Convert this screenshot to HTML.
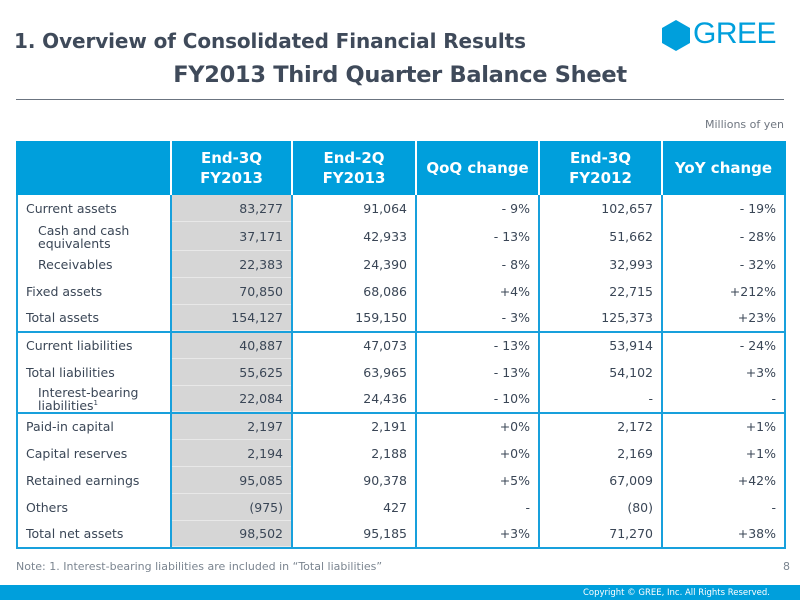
<!DOCTYPE html>
<html><head><meta charset="utf-8"><style>
body{margin:0;width:800px;height:600px;position:relative;background:#fff;font-family:"DejaVu Sans","Liberation Sans",sans-serif;overflow:hidden;color:#3a4656}
.t1{position:absolute;left:14px;top:29px;font-size:20px;font-weight:bold;color:#3f4a5a;letter-spacing:-0.1px}
.t2{position:absolute;left:0;width:800px;top:62px;text-align:center;font-size:22.5px;font-weight:bold;color:#3f4a5a;letter-spacing:-0.3px}
.rule{position:absolute;left:16px;width:768px;top:99px;height:1px;background:#6b7480}
.unit{position:absolute;right:16px;top:118px;font-size:11px;color:#6f7680}
table{position:absolute;left:16px;top:141px;width:768px;border-collapse:collapse;font-size:12.5px;table-layout:fixed}
td,th{border-left:2px solid #18a0dc;border-right:2px solid #18a0dc;padding:0 8px;text-align:right;color:#3a4656;box-sizing:border-box}
th{background:#009fdc;color:#fff;font-size:15px;font-weight:bold;text-align:center;height:54px;line-height:20px;border-color:#fff}
th:first-child{border-left-color:#009fdc}th:last-child{border-right-color:#009fdc}
td:first-child{text-align:left;padding-left:8px}
td.g{background:#d6d6d6;box-shadow:inset 0 -1px 0 #e8e8e8}
td{height:27px;line-height:14px}
tr.b td{border-bottom:2px solid #18a0dc}
tr.last td{border-bottom:2px solid #18a0dc}
td.i{padding-left:20px;line-height:13px}
.note{position:absolute;left:16px;top:560px;font-size:11px;color:#7b8590}
.pg{position:absolute;right:10px;top:560px;font-size:11px;color:#7b8590}
.foot{position:absolute;left:0;top:585px;width:800px;height:15px;background:#009fdc;color:#fff;font-size:8.5px;text-align:right;line-height:16px}
.foot span{margin-right:30px}
.logo{position:absolute;left:662px;top:20px}
.gree{position:absolute;left:693px;top:17px;font-family:"Liberation Sans",sans-serif;font-size:30px;color:#009fdc;letter-spacing:-0.5px}
</style></head><body>
<div class="t1">1. Overview of Consolidated Financial Results</div>
<div class="t2">FY2013 Third Quarter Balance Sheet</div>
<svg class="logo" width="29" height="31"><polygon points="14,0 28,8 28,23 14,31 0,23 0,8" fill="#009fdc"/></svg>
<div class="gree">GREE</div>
<div class="rule"></div>
<div class="unit">Millions of yen</div>
<table>
<colgroup><col style="width:154px"><col style="width:121px"><col style="width:124px"><col style="width:123px"><col style="width:123px"><col style="width:123px"></colgroup>
<tr><th></th><th>End-3Q<br>FY2013</th><th>End-2Q<br>FY2013</th><th>QoQ change</th><th>End-3Q<br>FY2012</th><th>YoY change</th></tr>
<tr><td>Current assets</td><td class="g">83,277</td><td>91,064</td><td>- 9%</td><td>102,657</td><td>- 19%</td></tr>
<tr><td class="i" style="height:29px">Cash and cash<br>equivalents</td><td class="g">37,171</td><td>42,933</td><td>- 13%</td><td>51,662</td><td>- 28%</td></tr>
<tr><td class="i">Receivables</td><td class="g">22,383</td><td>24,390</td><td>- 8%</td><td>32,993</td><td>- 32%</td></tr>
<tr><td>Fixed assets</td><td class="g">70,850</td><td>68,086</td><td>+4%</td><td>22,715</td><td>+212%</td></tr>
<tr class="b"><td>Total assets</td><td class="g">154,127</td><td>159,150</td><td>- 3%</td><td>125,373</td><td>+23%</td></tr>
<tr><td>Current liabilities</td><td class="g">40,887</td><td>47,073</td><td>- 13%</td><td>53,914</td><td>- 24%</td></tr>
<tr><td>Total liabilities</td><td class="g">55,625</td><td>63,965</td><td>- 13%</td><td>54,102</td><td>+3%</td></tr>
<tr class="b"><td class="i">Interest-bearing<br>liabilities<sup style="font-size:7px;line-height:0">1</sup></td><td class="g">22,084</td><td>24,436</td><td>- 10%</td><td>-</td><td>-</td></tr>
<tr><td>Paid-in capital</td><td class="g">2,197</td><td>2,191</td><td>+0%</td><td>2,172</td><td>+1%</td></tr>
<tr><td>Capital reserves</td><td class="g">2,194</td><td>2,188</td><td>+0%</td><td>2,169</td><td>+1%</td></tr>
<tr><td>Retained earnings</td><td class="g">95,085</td><td>90,378</td><td>+5%</td><td>67,009</td><td>+42%</td></tr>
<tr><td>Others</td><td class="g">(975)</td><td>427</td><td>-</td><td>(80)</td><td>-</td></tr>
<tr class="last"><td>Total net assets</td><td class="g">98,502</td><td>95,185</td><td>+3%</td><td>71,270</td><td>+38%</td></tr>
</table>
<div class="note">Note: 1. Interest-bearing liabilities are included in “Total liabilities”</div>
<div class="pg">8</div>
<div class="foot"><span>Copyright © GREE, Inc. All Rights Reserved.</span></div>
</body></html>
